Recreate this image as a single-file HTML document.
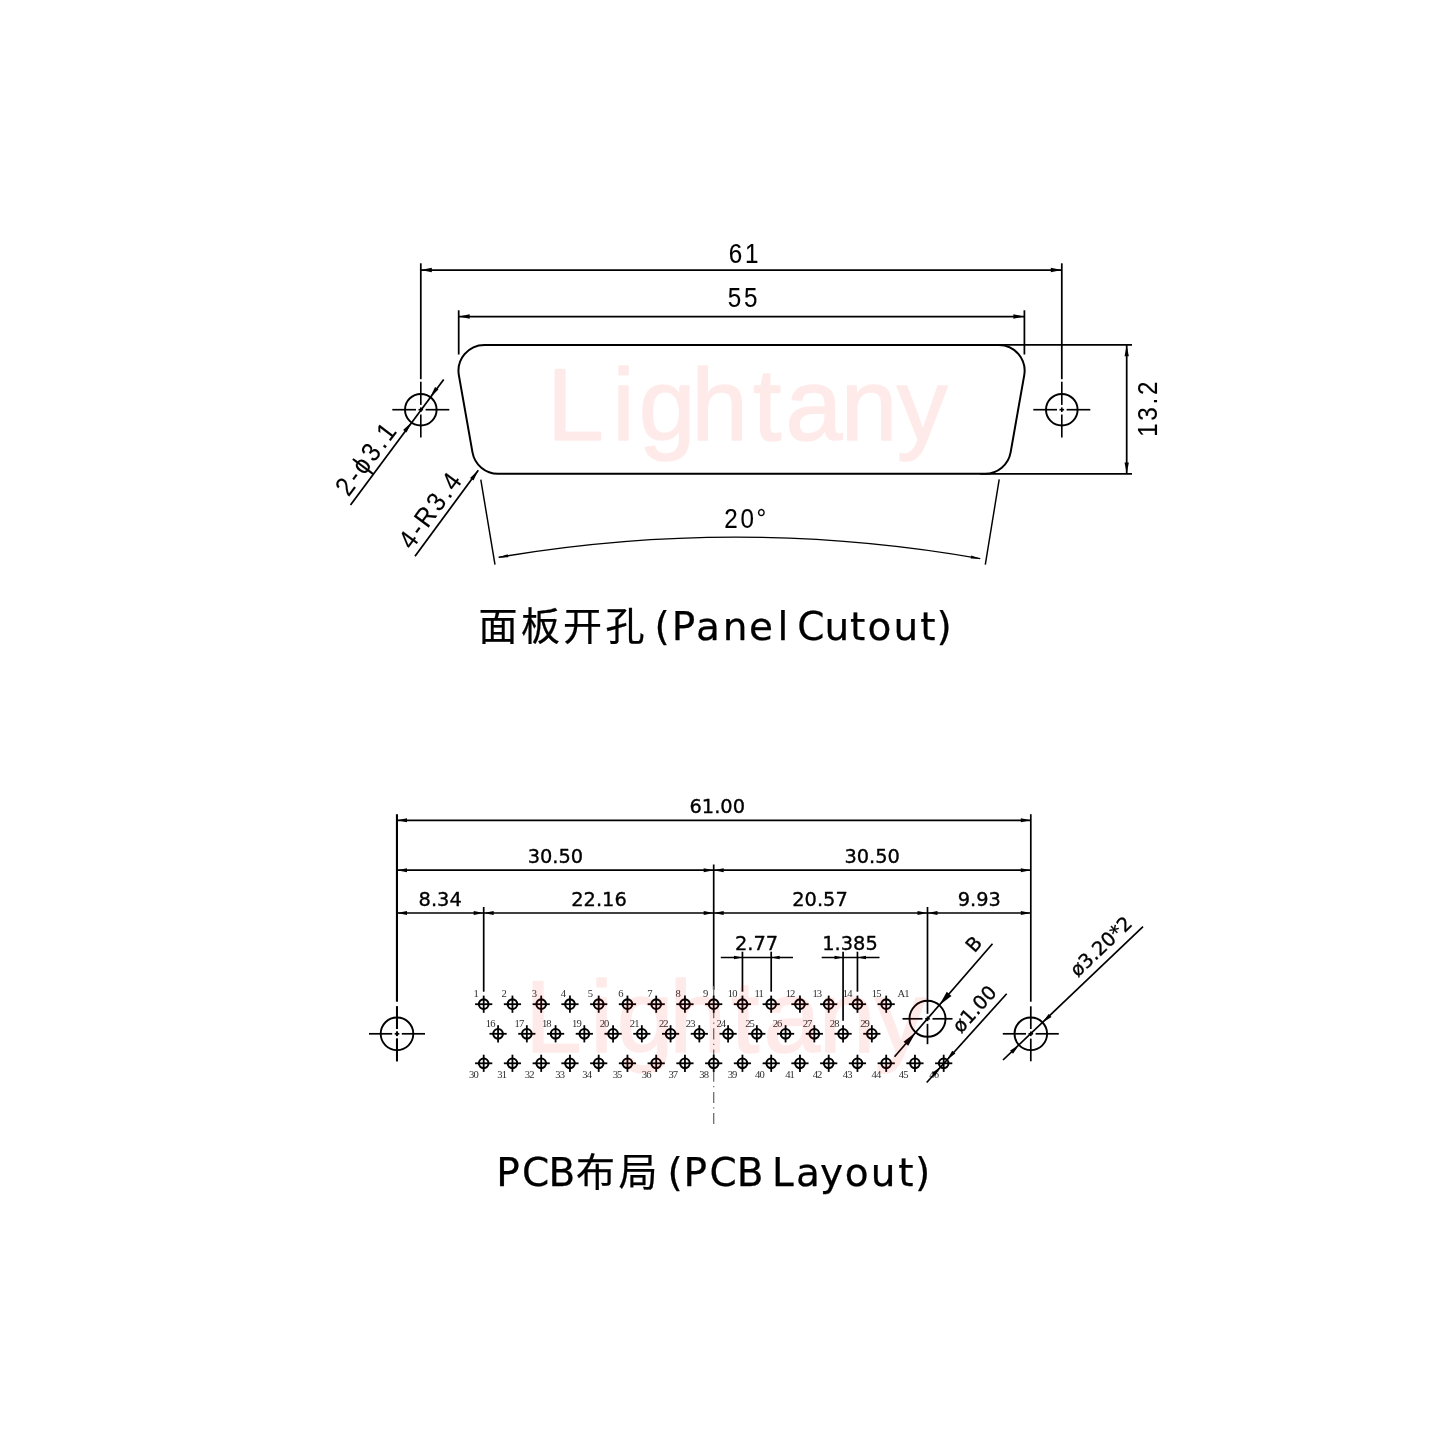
<!DOCTYPE html>
<html lang="zh-CN">
<head>
<meta charset="utf-8">
<title>面板开孔 (Panel Cutout) / PCB布局 (PCB Layout)</title>
<style>
html,body{margin:0;padding:0;background:#fff;}
body{width:1440px;height:1440px;overflow:hidden;}
svg{display:block;will-change:transform;}
text{white-space:pre;}
</style>
</head>
<body>
<svg width="1440" height="1440" viewBox="0 0 1440 1440">
<rect width="1440" height="1440" fill="#fff"/>
<line x1="420.80" y1="263.30" x2="420.80" y2="379.20" stroke="#000" stroke-width="1.75" />
<line x1="1061.80" y1="263.30" x2="1061.80" y2="379.20" stroke="#000" stroke-width="1.75" />
<line x1="420.80" y1="270.00" x2="1061.80" y2="270.00" stroke="#000" stroke-width="1.75" />
<polygon points="420.80,270.00 431.80,267.85 431.80,272.15" fill="#000"/>
<polygon points="1061.80,270.00 1050.80,272.15 1050.80,267.85" fill="#000"/>
<line x1="458.70" y1="310.30" x2="458.70" y2="354.50" stroke="#000" stroke-width="1.75" />
<line x1="1024.40" y1="310.30" x2="1024.40" y2="354.50" stroke="#000" stroke-width="1.75" />
<line x1="458.70" y1="316.50" x2="1024.40" y2="316.50" stroke="#000" stroke-width="1.75" />
<polygon points="458.70,316.50 469.70,314.35 469.70,318.65" fill="#000"/>
<polygon points="1024.40,316.50 1013.40,318.65 1013.40,314.35" fill="#000"/>
<circle cx="420.80" cy="409.70" r="15.80" fill="none" stroke="#000" stroke-width="1.95"/>
<line x1="392.30" y1="409.70" x2="416.00" y2="409.70" stroke="#000" stroke-width="1.65" />
<line x1="418.50" y1="409.70" x2="423.10" y2="409.70" stroke="#000" stroke-width="1.65" />
<line x1="425.60" y1="409.70" x2="449.30" y2="409.70" stroke="#000" stroke-width="1.65" />
<line x1="420.80" y1="381.70" x2="420.80" y2="404.90" stroke="#000" stroke-width="1.65" />
<line x1="420.80" y1="407.40" x2="420.80" y2="412.00" stroke="#000" stroke-width="1.65" />
<line x1="420.80" y1="414.50" x2="420.80" y2="437.50" stroke="#000" stroke-width="1.65" />
<circle cx="1061.80" cy="409.70" r="15.80" fill="none" stroke="#000" stroke-width="1.95"/>
<line x1="1033.30" y1="409.70" x2="1057.00" y2="409.70" stroke="#000" stroke-width="1.65" />
<line x1="1059.50" y1="409.70" x2="1064.10" y2="409.70" stroke="#000" stroke-width="1.65" />
<line x1="1066.60" y1="409.70" x2="1090.30" y2="409.70" stroke="#000" stroke-width="1.65" />
<line x1="1061.80" y1="381.70" x2="1061.80" y2="404.90" stroke="#000" stroke-width="1.65" />
<line x1="1061.80" y1="407.40" x2="1061.80" y2="412.00" stroke="#000" stroke-width="1.65" />
<line x1="1061.80" y1="414.50" x2="1061.80" y2="437.50" stroke="#000" stroke-width="1.65" />
<path d="M 484.40 344.9 L 998.70 344.9 A 25.9 25.9 0 0 1 1024.21 375.30 L 1010.61 452.40 A 25.9 25.9 0 0 1 985.11 473.8 L 497.99 473.8 A 25.9 25.9 0 0 1 472.49 452.40 L 458.89 375.30 A 25.9 25.9 0 0 1 484.40 344.9 Z" fill="none" stroke="#000" stroke-width="2.0" stroke-linejoin="round"/>
<line x1="993.70" y1="344.90" x2="1132.00" y2="344.90" stroke="#000" stroke-width="1.75" />
<line x1="980.11" y1="473.80" x2="1132.00" y2="473.80" stroke="#000" stroke-width="1.75" />
<line x1="1126.70" y1="344.90" x2="1126.70" y2="473.80" stroke="#000" stroke-width="1.75" />
<polygon points="1126.70,345.30 1128.85,356.30 1124.55,356.30" fill="#000"/>
<polygon points="1126.70,473.40 1124.55,462.40 1128.85,462.40" fill="#000"/>
<line x1="480.80" y1="479.60" x2="495.00" y2="564.70" stroke="#000" stroke-width="1.45" />
<line x1="999.20" y1="479.40" x2="985.30" y2="564.70" stroke="#000" stroke-width="1.45" />
<path d="M 498.7 557.3 A 1413 1413 0 0 1 980.2 558.6" fill="none" stroke="#000" stroke-width="1.4"/>
<polygon points="498.10,557.40 507.70,554.22 508.21,557.18" fill="#000"/>
<polygon points="980.80,558.70 970.69,558.48 971.20,555.52" fill="#000"/>
<line x1="350.50" y1="505.00" x2="443.70" y2="379.50" stroke="#000" stroke-width="1.75" />
<polygon points="411.38,422.38 406.55,432.50 403.10,429.93" fill="#000"/>
<polygon points="430.22,397.02 435.05,386.90 438.50,389.47" fill="#000"/>
<line x1="415.00" y1="556.20" x2="478.30" y2="470.30" stroke="#000" stroke-width="1.75" />
<polygon points="478.30,470.30 473.51,480.43 470.04,477.88" fill="#000"/>
<text x="0" y="0" transform="translate(744.95 263.40) scale(0.9 1)" font-family='"Liberation Sans", sans-serif' font-size="26.9" text-anchor="middle" fill="#000" letter-spacing="3.0"  stroke="#000" stroke-width="0.12" stroke-linejoin="round">61</text>
<text x="0" y="0" transform="translate(743.95 306.90) scale(0.9 1)" font-family='"Liberation Sans", sans-serif' font-size="26.9" text-anchor="middle" fill="#000" letter-spacing="3.0"  stroke="#000" stroke-width="0.12" stroke-linejoin="round">55</text>
<text x="0" y="0" transform="translate(746.65 528.00) scale(0.9 1)" font-family='"Liberation Sans", sans-serif' font-size="26.9" text-anchor="middle" fill="#000" letter-spacing="3.0"  stroke="#000" stroke-width="0.12" stroke-linejoin="round">20°</text>
<text x="0" y="0" transform="translate(1157.40 407.85) rotate(-90) scale(0.9 1)" font-family='"Liberation Sans", sans-serif' font-size="26.9" text-anchor="middle" fill="#000" letter-spacing="3.0"  stroke="#000" stroke-width="0.12" stroke-linejoin="round">13.2</text>
<text x="0" y="0" transform="translate(348.54 497.57) rotate(-53.4) scale(0.9 1)" font-family='"Liberation Sans", sans-serif' font-size="26.9" text-anchor="start" fill="#000" letter-spacing="3.0"  stroke="#000" stroke-width="0.12" stroke-linejoin="round">2-ϕ3.1</text>
<text x="0" y="0" transform="translate(411.65 550.63) rotate(-53.61) scale(0.9 1)" font-family='"Liberation Sans", sans-serif' font-size="26.9" text-anchor="start" fill="#000" letter-spacing="3.0"  stroke="#000" stroke-width="0.12" stroke-linejoin="round">4-R3.4</text>
<text x="478.6 521.0 562.9 605.4 644.4 654.6 671.7 695.9 722.8 748.9 777.5 788.3 797.3 824.5 850.0 867.4 893.4 920.2 936.4" y="639.8" font-family='"DejaVu Sans", "Liberation Sans", "Noto Sans CJK SC", sans-serif' font-size="39.0" fill="#000" stroke="#000" stroke-width="0.25" stroke-linejoin="round">面板开孔 (Panel Cutout)</text>
<text x="496.3 521.9 548.6 576.1 618.4 657.4 667.4 683.6 709.6 736.7 763.5 771.9 796.1 819.9 844.8 870.8 898.2 914.9" y="1186.0" font-family='"DejaVu Sans", "Liberation Sans", "Noto Sans CJK SC", sans-serif' font-size="39.0" fill="#000" stroke="#000" stroke-width="0.25" stroke-linejoin="round">PCB布局 (PCB Layout)</text>
<line x1="396.95" y1="814.20" x2="396.95" y2="1001.70" stroke="#000" stroke-width="2.1" />
<line x1="1030.80" y1="814.20" x2="1030.80" y2="1001.70" stroke="#000" stroke-width="1.7" />
<line x1="397.00" y1="820.30" x2="1030.80" y2="820.30" stroke="#000" stroke-width="1.7" />
<polygon points="397.00,820.30 407.00,818.35 407.00,822.25" fill="#000"/>
<polygon points="1030.80,820.30 1020.80,822.25 1020.80,818.35" fill="#000"/>
<line x1="397.00" y1="870.20" x2="713.70" y2="870.20" stroke="#000" stroke-width="1.7" />
<polygon points="397.00,870.20 407.00,868.25 407.00,872.15" fill="#000"/>
<polygon points="713.70,870.20 703.70,872.15 703.70,868.25" fill="#000"/>
<line x1="713.70" y1="870.20" x2="1030.80" y2="870.20" stroke="#000" stroke-width="1.7" />
<polygon points="713.70,870.20 723.70,868.25 723.70,872.15" fill="#000"/>
<polygon points="1030.80,870.20 1020.80,872.15 1020.80,868.25" fill="#000"/>
<line x1="397.00" y1="913.00" x2="483.70" y2="913.00" stroke="#000" stroke-width="1.7" />
<polygon points="397.00,913.00 407.00,911.05 407.00,914.95" fill="#000"/>
<polygon points="483.70,913.00 473.70,914.95 473.70,911.05" fill="#000"/>
<line x1="483.70" y1="913.00" x2="713.70" y2="913.00" stroke="#000" stroke-width="1.7" />
<polygon points="483.70,913.00 493.70,911.05 493.70,914.95" fill="#000"/>
<polygon points="713.70,913.00 703.70,914.95 703.70,911.05" fill="#000"/>
<line x1="713.70" y1="913.00" x2="927.50" y2="913.00" stroke="#000" stroke-width="1.7" />
<polygon points="713.70,913.00 723.70,911.05 723.70,914.95" fill="#000"/>
<polygon points="927.50,913.00 917.50,914.95 917.50,911.05" fill="#000"/>
<line x1="927.50" y1="913.00" x2="1030.80" y2="913.00" stroke="#000" stroke-width="1.7" />
<polygon points="927.50,913.00 937.50,911.05 937.50,914.95" fill="#000"/>
<polygon points="1030.80,913.00 1020.80,914.95 1020.80,911.05" fill="#000"/>
<line x1="483.70" y1="907.00" x2="483.70" y2="991.70" stroke="#000" stroke-width="1.7" />
<line x1="713.70" y1="864.50" x2="713.70" y2="989.70" stroke="#000" stroke-width="1.7" />
<line x1="927.50" y1="907.00" x2="927.50" y2="1000.00" stroke="#000" stroke-width="1.7" />
<line x1="713.7" y1="985.9" x2="713.7" y2="1124" stroke="#6a6a6a" stroke-width="1.25" stroke-dasharray="11.1 4.3 1.2 4.6"/>
<line x1="720.80" y1="957.50" x2="793.00" y2="957.50" stroke="#000" stroke-width="1.7" />
<polygon points="742.45,957.50 733.95,959.25 733.95,955.75" fill="#000"/>
<polygon points="771.20,957.50 779.70,955.75 779.70,959.25" fill="#000"/>
<line x1="742.45" y1="951.70" x2="742.45" y2="991.70" stroke="#000" stroke-width="1.7" />
<line x1="771.20" y1="951.70" x2="771.20" y2="991.70" stroke="#000" stroke-width="1.7" />
<line x1="821.70" y1="957.50" x2="879.50" y2="957.50" stroke="#000" stroke-width="1.7" />
<polygon points="843.08,957.50 834.58,959.25 834.58,955.75" fill="#000"/>
<polygon points="857.45,957.50 865.95,955.75 865.95,959.25" fill="#000"/>
<line x1="843.08" y1="951.70" x2="843.08" y2="1020.80" stroke="#000" stroke-width="1.7" />
<line x1="857.45" y1="951.70" x2="857.45" y2="991.70" stroke="#000" stroke-width="1.7" />
<circle cx="397.00" cy="1033.80" r="16.30" fill="none" stroke="#000" stroke-width="1.9"/>
<line x1="369.00" y1="1033.80" x2="392.20" y2="1033.80" stroke="#000" stroke-width="1.7" />
<line x1="394.70" y1="1033.80" x2="399.30" y2="1033.80" stroke="#000" stroke-width="1.7" />
<line x1="401.80" y1="1033.80" x2="425.00" y2="1033.80" stroke="#000" stroke-width="1.7" />
<line x1="397.00" y1="1006.30" x2="397.00" y2="1029.00" stroke="#000" stroke-width="1.7" />
<line x1="397.00" y1="1031.50" x2="397.00" y2="1036.10" stroke="#000" stroke-width="1.7" />
<line x1="397.00" y1="1038.60" x2="397.00" y2="1061.30" stroke="#000" stroke-width="1.7" />
<line x1="396.95" y1="1006.30" x2="396.95" y2="1029.00" stroke="#000" stroke-width="2.0" />
<line x1="396.95" y1="1031.50" x2="396.95" y2="1036.10" stroke="#000" stroke-width="2.0" />
<line x1="396.95" y1="1038.60" x2="396.95" y2="1061.30" stroke="#000" stroke-width="2.0" />
<circle cx="1030.80" cy="1033.80" r="16.30" fill="none" stroke="#000" stroke-width="1.9"/>
<line x1="1002.80" y1="1033.80" x2="1026.00" y2="1033.80" stroke="#000" stroke-width="1.7" />
<line x1="1028.50" y1="1033.80" x2="1033.10" y2="1033.80" stroke="#000" stroke-width="1.7" />
<line x1="1035.60" y1="1033.80" x2="1058.80" y2="1033.80" stroke="#000" stroke-width="1.7" />
<line x1="1030.80" y1="1006.30" x2="1030.80" y2="1029.00" stroke="#000" stroke-width="1.7" />
<line x1="1030.80" y1="1031.50" x2="1030.80" y2="1036.10" stroke="#000" stroke-width="1.7" />
<line x1="1030.80" y1="1038.60" x2="1030.80" y2="1061.30" stroke="#000" stroke-width="1.7" />
<circle cx="927.50" cy="1018.80" r="18.00" fill="none" stroke="#000" stroke-width="1.9"/>
<line x1="902.50" y1="1018.80" x2="922.50" y2="1018.80" stroke="#000" stroke-width="1.7" />
<line x1="925.20" y1="1018.80" x2="929.80" y2="1018.80" stroke="#000" stroke-width="1.7" />
<line x1="932.50" y1="1018.80" x2="952.50" y2="1018.80" stroke="#000" stroke-width="1.7" />
<line x1="927.50" y1="1000.00" x2="927.50" y2="1013.80" stroke="#000" stroke-width="1.7" />
<line x1="927.50" y1="1016.50" x2="927.50" y2="1021.10" stroke="#000" stroke-width="1.7" />
<line x1="927.50" y1="1023.80" x2="927.50" y2="1044.20" stroke="#000" stroke-width="1.7" />
<circle cx="483.70" cy="1004.20" r="4.80" fill="none" stroke="#000" stroke-width="2.1"/>
<line x1="475.10" y1="1004.20" x2="492.30" y2="1004.20" stroke="#000" stroke-width="1.8" />
<line x1="483.70" y1="995.60" x2="483.70" y2="1012.80" stroke="#000" stroke-width="1.8" />
<text x="476.25" y="996.50" font-family='"Liberation Serif", serif' font-size="10.6" text-anchor="middle" fill="#2e2e2e" >1</text>
<circle cx="512.45" cy="1004.20" r="4.80" fill="none" stroke="#000" stroke-width="2.1"/>
<line x1="503.85" y1="1004.20" x2="521.05" y2="1004.20" stroke="#000" stroke-width="1.8" />
<line x1="512.45" y1="995.60" x2="512.45" y2="1012.80" stroke="#000" stroke-width="1.8" />
<text x="504.06" y="996.50" font-family='"Liberation Serif", serif' font-size="10.6" text-anchor="middle" fill="#2e2e2e" >2</text>
<circle cx="541.20" cy="1004.20" r="4.80" fill="none" stroke="#000" stroke-width="2.1"/>
<line x1="532.60" y1="1004.20" x2="549.80" y2="1004.20" stroke="#000" stroke-width="1.8" />
<line x1="541.20" y1="995.60" x2="541.20" y2="1012.80" stroke="#000" stroke-width="1.8" />
<text x="534.40" y="996.50" font-family='"Liberation Serif", serif' font-size="10.6" text-anchor="middle" fill="#2e2e2e" >3</text>
<circle cx="569.95" cy="1004.20" r="4.80" fill="none" stroke="#000" stroke-width="2.1"/>
<line x1="561.35" y1="1004.20" x2="578.55" y2="1004.20" stroke="#000" stroke-width="1.8" />
<line x1="569.95" y1="995.60" x2="569.95" y2="1012.80" stroke="#000" stroke-width="1.8" />
<text x="563.40" y="996.50" font-family='"Liberation Serif", serif' font-size="10.6" text-anchor="middle" fill="#2e2e2e" >4</text>
<circle cx="598.70" cy="1004.20" r="4.80" fill="none" stroke="#000" stroke-width="2.1"/>
<line x1="590.10" y1="1004.20" x2="607.30" y2="1004.20" stroke="#000" stroke-width="1.8" />
<line x1="598.70" y1="995.60" x2="598.70" y2="1012.80" stroke="#000" stroke-width="1.8" />
<text x="590.30" y="996.50" font-family='"Liberation Serif", serif' font-size="10.6" text-anchor="middle" fill="#2e2e2e" >5</text>
<circle cx="627.45" cy="1004.20" r="4.80" fill="none" stroke="#000" stroke-width="2.1"/>
<line x1="618.85" y1="1004.20" x2="636.05" y2="1004.20" stroke="#000" stroke-width="1.8" />
<line x1="627.45" y1="995.60" x2="627.45" y2="1012.80" stroke="#000" stroke-width="1.8" />
<text x="620.80" y="996.50" font-family='"Liberation Serif", serif' font-size="10.6" text-anchor="middle" fill="#2e2e2e" >6</text>
<circle cx="656.20" cy="1004.20" r="4.80" fill="none" stroke="#000" stroke-width="2.1"/>
<line x1="647.60" y1="1004.20" x2="664.80" y2="1004.20" stroke="#000" stroke-width="1.8" />
<line x1="656.20" y1="995.60" x2="656.20" y2="1012.80" stroke="#000" stroke-width="1.8" />
<text x="650.00" y="996.50" font-family='"Liberation Serif", serif' font-size="10.6" text-anchor="middle" fill="#2e2e2e" >7</text>
<circle cx="684.95" cy="1004.20" r="4.80" fill="none" stroke="#000" stroke-width="2.1"/>
<line x1="676.35" y1="1004.20" x2="693.55" y2="1004.20" stroke="#000" stroke-width="1.8" />
<line x1="684.95" y1="995.60" x2="684.95" y2="1012.80" stroke="#000" stroke-width="1.8" />
<text x="678.10" y="996.50" font-family='"Liberation Serif", serif' font-size="10.6" text-anchor="middle" fill="#2e2e2e" >8</text>
<circle cx="713.70" cy="1004.20" r="4.80" fill="none" stroke="#000" stroke-width="2.1"/>
<line x1="705.10" y1="1004.20" x2="722.30" y2="1004.20" stroke="#000" stroke-width="1.8" />
<line x1="713.70" y1="995.60" x2="713.70" y2="1012.80" stroke="#000" stroke-width="1.8" />
<text x="705.60" y="996.50" font-family='"Liberation Serif", serif' font-size="10.6" text-anchor="middle" fill="#2e2e2e" >9</text>
<circle cx="742.45" cy="1004.20" r="4.80" fill="none" stroke="#000" stroke-width="2.1"/>
<line x1="733.85" y1="1004.20" x2="751.05" y2="1004.20" stroke="#000" stroke-width="1.8" />
<line x1="742.45" y1="995.60" x2="742.45" y2="1012.80" stroke="#000" stroke-width="1.8" />
<text x="732.28" y="996.50" font-family='"Liberation Serif", serif' font-size="10.6" text-anchor="middle" fill="#2e2e2e" letter-spacing="-0.85" >10</text>
<circle cx="771.20" cy="1004.20" r="4.80" fill="none" stroke="#000" stroke-width="2.1"/>
<line x1="762.60" y1="1004.20" x2="779.80" y2="1004.20" stroke="#000" stroke-width="1.8" />
<line x1="771.20" y1="995.60" x2="771.20" y2="1012.80" stroke="#000" stroke-width="1.8" />
<text x="758.78" y="996.50" font-family='"Liberation Serif", serif' font-size="10.6" text-anchor="middle" fill="#2e2e2e" letter-spacing="-0.85" >11</text>
<circle cx="799.95" cy="1004.20" r="4.80" fill="none" stroke="#000" stroke-width="2.1"/>
<line x1="791.35" y1="1004.20" x2="808.55" y2="1004.20" stroke="#000" stroke-width="1.8" />
<line x1="799.95" y1="995.60" x2="799.95" y2="1012.80" stroke="#000" stroke-width="1.8" />
<text x="790.08" y="996.50" font-family='"Liberation Serif", serif' font-size="10.6" text-anchor="middle" fill="#2e2e2e" letter-spacing="-0.85" >12</text>
<circle cx="828.70" cy="1004.20" r="4.80" fill="none" stroke="#000" stroke-width="2.1"/>
<line x1="820.10" y1="1004.20" x2="837.30" y2="1004.20" stroke="#000" stroke-width="1.8" />
<line x1="828.70" y1="995.60" x2="828.70" y2="1012.80" stroke="#000" stroke-width="1.8" />
<text x="816.88" y="996.50" font-family='"Liberation Serif", serif' font-size="10.6" text-anchor="middle" fill="#2e2e2e" letter-spacing="-0.85" >13</text>
<circle cx="857.45" cy="1004.20" r="4.80" fill="none" stroke="#000" stroke-width="2.1"/>
<line x1="848.85" y1="1004.20" x2="866.05" y2="1004.20" stroke="#000" stroke-width="1.8" />
<line x1="857.45" y1="995.60" x2="857.45" y2="1012.80" stroke="#000" stroke-width="1.8" />
<text x="847.28" y="996.50" font-family='"Liberation Serif", serif' font-size="10.6" text-anchor="middle" fill="#2e2e2e" letter-spacing="-0.85" >14</text>
<circle cx="886.20" cy="1004.20" r="4.80" fill="none" stroke="#000" stroke-width="2.1"/>
<line x1="877.60" y1="1004.20" x2="894.80" y2="1004.20" stroke="#000" stroke-width="1.8" />
<line x1="886.20" y1="995.60" x2="886.20" y2="1012.80" stroke="#000" stroke-width="1.8" />
<text x="876.18" y="996.50" font-family='"Liberation Serif", serif' font-size="10.6" text-anchor="middle" fill="#2e2e2e" letter-spacing="-0.85" >15</text>
<text x="903.18" y="996.50" font-family='"Liberation Serif", serif' font-size="10.6" text-anchor="middle" fill="#2e2e2e" letter-spacing="-0.85" >A1</text>
<circle cx="498.07" cy="1033.80" r="4.80" fill="none" stroke="#000" stroke-width="2.1"/>
<line x1="489.47" y1="1033.80" x2="506.68" y2="1033.80" stroke="#000" stroke-width="1.8" />
<line x1="498.07" y1="1025.20" x2="498.07" y2="1042.40" stroke="#000" stroke-width="1.8" />
<text x="490.32" y="1026.80" font-family='"Liberation Serif", serif' font-size="10.6" text-anchor="middle" fill="#2e2e2e" letter-spacing="-0.85" >16</text>
<circle cx="526.83" cy="1033.80" r="4.80" fill="none" stroke="#000" stroke-width="2.1"/>
<line x1="518.23" y1="1033.80" x2="535.43" y2="1033.80" stroke="#000" stroke-width="1.8" />
<line x1="526.83" y1="1025.20" x2="526.83" y2="1042.40" stroke="#000" stroke-width="1.8" />
<text x="518.98" y="1026.80" font-family='"Liberation Serif", serif' font-size="10.6" text-anchor="middle" fill="#2e2e2e" letter-spacing="-0.85" >17</text>
<circle cx="555.58" cy="1033.80" r="4.80" fill="none" stroke="#000" stroke-width="2.1"/>
<line x1="546.98" y1="1033.80" x2="564.18" y2="1033.80" stroke="#000" stroke-width="1.8" />
<line x1="555.58" y1="1025.20" x2="555.58" y2="1042.40" stroke="#000" stroke-width="1.8" />
<text x="546.33" y="1026.80" font-family='"Liberation Serif", serif' font-size="10.6" text-anchor="middle" fill="#2e2e2e" letter-spacing="-0.85" >18</text>
<circle cx="584.33" cy="1033.80" r="4.80" fill="none" stroke="#000" stroke-width="2.1"/>
<line x1="575.73" y1="1033.80" x2="592.93" y2="1033.80" stroke="#000" stroke-width="1.8" />
<line x1="584.33" y1="1025.20" x2="584.33" y2="1042.40" stroke="#000" stroke-width="1.8" />
<text x="576.48" y="1026.80" font-family='"Liberation Serif", serif' font-size="10.6" text-anchor="middle" fill="#2e2e2e" letter-spacing="-0.85" >19</text>
<circle cx="613.08" cy="1033.80" r="4.80" fill="none" stroke="#000" stroke-width="2.1"/>
<line x1="604.48" y1="1033.80" x2="621.68" y2="1033.80" stroke="#000" stroke-width="1.8" />
<line x1="613.08" y1="1025.20" x2="613.08" y2="1042.40" stroke="#000" stroke-width="1.8" />
<text x="604.08" y="1026.80" font-family='"Liberation Serif", serif' font-size="10.6" text-anchor="middle" fill="#2e2e2e" letter-spacing="-0.85" >20</text>
<circle cx="641.83" cy="1033.80" r="4.80" fill="none" stroke="#000" stroke-width="2.1"/>
<line x1="633.23" y1="1033.80" x2="650.43" y2="1033.80" stroke="#000" stroke-width="1.8" />
<line x1="641.83" y1="1025.20" x2="641.83" y2="1042.40" stroke="#000" stroke-width="1.8" />
<text x="634.28" y="1026.80" font-family='"Liberation Serif", serif' font-size="10.6" text-anchor="middle" fill="#2e2e2e" letter-spacing="-0.85" >21</text>
<circle cx="670.58" cy="1033.80" r="4.80" fill="none" stroke="#000" stroke-width="2.1"/>
<line x1="661.98" y1="1033.80" x2="679.18" y2="1033.80" stroke="#000" stroke-width="1.8" />
<line x1="670.58" y1="1025.20" x2="670.58" y2="1042.40" stroke="#000" stroke-width="1.8" />
<text x="663.33" y="1026.80" font-family='"Liberation Serif", serif' font-size="10.6" text-anchor="middle" fill="#2e2e2e" letter-spacing="-0.85" >22</text>
<circle cx="699.33" cy="1033.80" r="4.80" fill="none" stroke="#000" stroke-width="2.1"/>
<line x1="690.73" y1="1033.80" x2="707.93" y2="1033.80" stroke="#000" stroke-width="1.8" />
<line x1="699.33" y1="1025.20" x2="699.33" y2="1042.40" stroke="#000" stroke-width="1.8" />
<text x="690.18" y="1026.80" font-family='"Liberation Serif", serif' font-size="10.6" text-anchor="middle" fill="#2e2e2e" letter-spacing="-0.85" >23</text>
<circle cx="728.08" cy="1033.80" r="4.80" fill="none" stroke="#000" stroke-width="2.1"/>
<line x1="719.48" y1="1033.80" x2="736.68" y2="1033.80" stroke="#000" stroke-width="1.8" />
<line x1="728.08" y1="1025.20" x2="728.08" y2="1042.40" stroke="#000" stroke-width="1.8" />
<text x="720.83" y="1026.80" font-family='"Liberation Serif", serif' font-size="10.6" text-anchor="middle" fill="#2e2e2e" letter-spacing="-0.85" >24</text>
<circle cx="756.83" cy="1033.80" r="4.80" fill="none" stroke="#000" stroke-width="2.1"/>
<line x1="748.23" y1="1033.80" x2="765.43" y2="1033.80" stroke="#000" stroke-width="1.8" />
<line x1="756.83" y1="1025.20" x2="756.83" y2="1042.40" stroke="#000" stroke-width="1.8" />
<text x="749.58" y="1026.80" font-family='"Liberation Serif", serif' font-size="10.6" text-anchor="middle" fill="#2e2e2e" letter-spacing="-0.85" >25</text>
<circle cx="785.58" cy="1033.80" r="4.80" fill="none" stroke="#000" stroke-width="2.1"/>
<line x1="776.98" y1="1033.80" x2="794.18" y2="1033.80" stroke="#000" stroke-width="1.8" />
<line x1="785.58" y1="1025.20" x2="785.58" y2="1042.40" stroke="#000" stroke-width="1.8" />
<text x="777.08" y="1026.80" font-family='"Liberation Serif", serif' font-size="10.6" text-anchor="middle" fill="#2e2e2e" letter-spacing="-0.85" >26</text>
<circle cx="814.33" cy="1033.80" r="4.80" fill="none" stroke="#000" stroke-width="2.1"/>
<line x1="805.73" y1="1033.80" x2="822.93" y2="1033.80" stroke="#000" stroke-width="1.8" />
<line x1="814.33" y1="1025.20" x2="814.33" y2="1042.40" stroke="#000" stroke-width="1.8" />
<text x="807.08" y="1026.80" font-family='"Liberation Serif", serif' font-size="10.6" text-anchor="middle" fill="#2e2e2e" letter-spacing="-0.85" >27</text>
<circle cx="843.08" cy="1033.80" r="4.80" fill="none" stroke="#000" stroke-width="2.1"/>
<line x1="834.48" y1="1033.80" x2="851.68" y2="1033.80" stroke="#000" stroke-width="1.8" />
<line x1="843.08" y1="1025.20" x2="843.08" y2="1042.40" stroke="#000" stroke-width="1.8" />
<text x="834.18" y="1026.80" font-family='"Liberation Serif", serif' font-size="10.6" text-anchor="middle" fill="#2e2e2e" letter-spacing="-0.85" >28</text>
<circle cx="871.83" cy="1033.80" r="4.80" fill="none" stroke="#000" stroke-width="2.1"/>
<line x1="863.23" y1="1033.80" x2="880.43" y2="1033.80" stroke="#000" stroke-width="1.8" />
<line x1="871.83" y1="1025.20" x2="871.83" y2="1042.40" stroke="#000" stroke-width="1.8" />
<text x="864.58" y="1026.80" font-family='"Liberation Serif", serif' font-size="10.6" text-anchor="middle" fill="#2e2e2e" letter-spacing="-0.85" >29</text>
<circle cx="483.70" cy="1063.30" r="4.80" fill="none" stroke="#000" stroke-width="2.1"/>
<line x1="475.10" y1="1063.30" x2="492.30" y2="1063.30" stroke="#000" stroke-width="1.8" />
<line x1="483.70" y1="1054.70" x2="483.70" y2="1071.90" stroke="#000" stroke-width="1.8" />
<text x="473.47" y="1078.00" font-family='"Liberation Serif", serif' font-size="10.6" text-anchor="middle" fill="#2e2e2e" letter-spacing="-0.85" >30</text>
<circle cx="512.45" cy="1063.30" r="4.80" fill="none" stroke="#000" stroke-width="2.1"/>
<line x1="503.85" y1="1063.30" x2="521.05" y2="1063.30" stroke="#000" stroke-width="1.8" />
<line x1="512.45" y1="1054.70" x2="512.45" y2="1071.90" stroke="#000" stroke-width="1.8" />
<text x="501.68" y="1078.00" font-family='"Liberation Serif", serif' font-size="10.6" text-anchor="middle" fill="#2e2e2e" letter-spacing="-0.85" >31</text>
<circle cx="541.20" cy="1063.30" r="4.80" fill="none" stroke="#000" stroke-width="2.1"/>
<line x1="532.60" y1="1063.30" x2="549.80" y2="1063.30" stroke="#000" stroke-width="1.8" />
<line x1="541.20" y1="1054.70" x2="541.20" y2="1071.90" stroke="#000" stroke-width="1.8" />
<text x="529.28" y="1078.00" font-family='"Liberation Serif", serif' font-size="10.6" text-anchor="middle" fill="#2e2e2e" letter-spacing="-0.85" >32</text>
<circle cx="569.95" cy="1063.30" r="4.80" fill="none" stroke="#000" stroke-width="2.1"/>
<line x1="561.35" y1="1063.30" x2="578.55" y2="1063.30" stroke="#000" stroke-width="1.8" />
<line x1="569.95" y1="1054.70" x2="569.95" y2="1071.90" stroke="#000" stroke-width="1.8" />
<text x="559.78" y="1078.00" font-family='"Liberation Serif", serif' font-size="10.6" text-anchor="middle" fill="#2e2e2e" letter-spacing="-0.85" >33</text>
<circle cx="598.70" cy="1063.30" r="4.80" fill="none" stroke="#000" stroke-width="2.1"/>
<line x1="590.10" y1="1063.30" x2="607.30" y2="1063.30" stroke="#000" stroke-width="1.8" />
<line x1="598.70" y1="1054.70" x2="598.70" y2="1071.90" stroke="#000" stroke-width="1.8" />
<text x="586.78" y="1078.00" font-family='"Liberation Serif", serif' font-size="10.6" text-anchor="middle" fill="#2e2e2e" letter-spacing="-0.85" >34</text>
<circle cx="627.45" cy="1063.30" r="4.80" fill="none" stroke="#000" stroke-width="2.1"/>
<line x1="618.85" y1="1063.30" x2="636.05" y2="1063.30" stroke="#000" stroke-width="1.8" />
<line x1="627.45" y1="1054.70" x2="627.45" y2="1071.90" stroke="#000" stroke-width="1.8" />
<text x="617.08" y="1078.00" font-family='"Liberation Serif", serif' font-size="10.6" text-anchor="middle" fill="#2e2e2e" letter-spacing="-0.85" >35</text>
<circle cx="656.20" cy="1063.30" r="4.80" fill="none" stroke="#000" stroke-width="2.1"/>
<line x1="647.60" y1="1063.30" x2="664.80" y2="1063.30" stroke="#000" stroke-width="1.8" />
<line x1="656.20" y1="1054.70" x2="656.20" y2="1071.90" stroke="#000" stroke-width="1.8" />
<text x="646.18" y="1078.00" font-family='"Liberation Serif", serif' font-size="10.6" text-anchor="middle" fill="#2e2e2e" letter-spacing="-0.85" >36</text>
<circle cx="684.95" cy="1063.30" r="4.80" fill="none" stroke="#000" stroke-width="2.1"/>
<line x1="676.35" y1="1063.30" x2="693.55" y2="1063.30" stroke="#000" stroke-width="1.8" />
<line x1="684.95" y1="1054.70" x2="684.95" y2="1071.90" stroke="#000" stroke-width="1.8" />
<text x="672.83" y="1078.00" font-family='"Liberation Serif", serif' font-size="10.6" text-anchor="middle" fill="#2e2e2e" letter-spacing="-0.85" >37</text>
<circle cx="713.70" cy="1063.30" r="4.80" fill="none" stroke="#000" stroke-width="2.1"/>
<line x1="705.10" y1="1063.30" x2="722.30" y2="1063.30" stroke="#000" stroke-width="1.8" />
<line x1="713.70" y1="1054.70" x2="713.70" y2="1071.90" stroke="#000" stroke-width="1.8" />
<text x="703.68" y="1078.00" font-family='"Liberation Serif", serif' font-size="10.6" text-anchor="middle" fill="#2e2e2e" letter-spacing="-0.85" >38</text>
<circle cx="742.45" cy="1063.30" r="4.80" fill="none" stroke="#000" stroke-width="2.1"/>
<line x1="733.85" y1="1063.30" x2="751.05" y2="1063.30" stroke="#000" stroke-width="1.8" />
<line x1="742.45" y1="1054.70" x2="742.45" y2="1071.90" stroke="#000" stroke-width="1.8" />
<text x="732.08" y="1078.00" font-family='"Liberation Serif", serif' font-size="10.6" text-anchor="middle" fill="#2e2e2e" letter-spacing="-0.85" >39</text>
<circle cx="771.20" cy="1063.30" r="4.80" fill="none" stroke="#000" stroke-width="2.1"/>
<line x1="762.60" y1="1063.30" x2="779.80" y2="1063.30" stroke="#000" stroke-width="1.8" />
<line x1="771.20" y1="1054.70" x2="771.20" y2="1071.90" stroke="#000" stroke-width="1.8" />
<text x="759.48" y="1078.00" font-family='"Liberation Serif", serif' font-size="10.6" text-anchor="middle" fill="#2e2e2e" letter-spacing="-0.85" >40</text>
<circle cx="799.95" cy="1063.30" r="4.80" fill="none" stroke="#000" stroke-width="2.1"/>
<line x1="791.35" y1="1063.30" x2="808.55" y2="1063.30" stroke="#000" stroke-width="1.8" />
<line x1="799.95" y1="1054.70" x2="799.95" y2="1071.90" stroke="#000" stroke-width="1.8" />
<text x="789.58" y="1078.00" font-family='"Liberation Serif", serif' font-size="10.6" text-anchor="middle" fill="#2e2e2e" letter-spacing="-0.85" >41</text>
<circle cx="828.70" cy="1063.30" r="4.80" fill="none" stroke="#000" stroke-width="2.1"/>
<line x1="820.10" y1="1063.30" x2="837.30" y2="1063.30" stroke="#000" stroke-width="1.8" />
<line x1="828.70" y1="1054.70" x2="828.70" y2="1071.90" stroke="#000" stroke-width="1.8" />
<text x="817.08" y="1078.00" font-family='"Liberation Serif", serif' font-size="10.6" text-anchor="middle" fill="#2e2e2e" letter-spacing="-0.85" >42</text>
<circle cx="857.45" cy="1063.30" r="4.80" fill="none" stroke="#000" stroke-width="2.1"/>
<line x1="848.85" y1="1063.30" x2="866.05" y2="1063.30" stroke="#000" stroke-width="1.8" />
<line x1="857.45" y1="1054.70" x2="857.45" y2="1071.90" stroke="#000" stroke-width="1.8" />
<text x="847.28" y="1078.00" font-family='"Liberation Serif", serif' font-size="10.6" text-anchor="middle" fill="#2e2e2e" letter-spacing="-0.85" >43</text>
<circle cx="886.20" cy="1063.30" r="4.80" fill="none" stroke="#000" stroke-width="2.1"/>
<line x1="877.60" y1="1063.30" x2="894.80" y2="1063.30" stroke="#000" stroke-width="1.8" />
<line x1="886.20" y1="1054.70" x2="886.20" y2="1071.90" stroke="#000" stroke-width="1.8" />
<text x="875.98" y="1078.00" font-family='"Liberation Serif", serif' font-size="10.6" text-anchor="middle" fill="#2e2e2e" letter-spacing="-0.85" >44</text>
<circle cx="914.95" cy="1063.30" r="4.80" fill="none" stroke="#000" stroke-width="2.1"/>
<line x1="906.35" y1="1063.30" x2="923.55" y2="1063.30" stroke="#000" stroke-width="1.8" />
<line x1="914.95" y1="1054.70" x2="914.95" y2="1071.90" stroke="#000" stroke-width="1.8" />
<text x="903.18" y="1078.00" font-family='"Liberation Serif", serif' font-size="10.6" text-anchor="middle" fill="#2e2e2e" letter-spacing="-0.85" >45</text>
<circle cx="943.70" cy="1063.30" r="4.80" fill="none" stroke="#000" stroke-width="2.1"/>
<line x1="935.10" y1="1063.30" x2="952.30" y2="1063.30" stroke="#000" stroke-width="1.8" />
<line x1="943.70" y1="1054.70" x2="943.70" y2="1071.90" stroke="#000" stroke-width="1.8" />
<text x="933.68" y="1078.00" font-family='"Liberation Serif", serif' font-size="10.6" text-anchor="middle" fill="#2e2e2e" letter-spacing="-0.85" >46</text>
<line x1="894.50" y1="1056.70" x2="992.50" y2="943.80" stroke="#000" stroke-width="1.7" />
<polygon points="915.70,1032.39 908.21,1045.75 903.53,1041.69" fill="#000"/>
<polygon points="939.30,1005.21 946.79,991.85 951.47,995.91" fill="#000"/>
<text x="0" y="0" transform="translate(974.61 953.43) rotate(-49.04)" font-family='"DejaVu Sans", "Liberation Sans", sans-serif' font-size="19.4" text-anchor="start" fill="#000"  stroke="#000" stroke-width="0.35" stroke-linejoin="round">B</text>
<line x1="926.70" y1="1082.50" x2="1006.70" y2="993.70" stroke="#000" stroke-width="1.7" />
<polygon points="946.91,1059.73 952.25,1050.68 955.37,1053.49" fill="#000"/>
<polygon points="940.49,1066.87 935.15,1075.92 932.03,1073.11" fill="#000"/>
<text x="0" y="0" transform="translate(961.00 1033.96) rotate(-47.98)" font-family='"DejaVu Sans", "Liberation Sans", sans-serif' font-size="19.4" text-anchor="start" fill="#000"  stroke="#000" stroke-width="0.35" stroke-linejoin="round">ø1.00</text>
<line x1="1003.00" y1="1060.00" x2="1143.00" y2="926.70" stroke="#000" stroke-width="1.7" />
<polygon points="1019.00,1045.04 1012.98,1053.66 1010.09,1050.62" fill="#000"/>
<polygon points="1042.60,1022.56 1048.62,1013.94 1051.51,1016.98" fill="#000"/>
<text x="0" y="0" transform="translate(1077.66 977.86) rotate(-43.6)" font-family='"DejaVu Sans", "Liberation Sans", sans-serif' font-size="19.4" text-anchor="start" fill="#000"  stroke="#000" stroke-width="0.35" stroke-linejoin="round">ø3.20*2</text>
<text x="717.30" y="813.30" font-family='"DejaVu Sans", "Liberation Sans", sans-serif' font-size="19.4" text-anchor="middle" fill="#000"  stroke="#000" stroke-width="0.35" stroke-linejoin="round">61.00</text>
<text x="555.40" y="863.30" font-family='"DejaVu Sans", "Liberation Sans", sans-serif' font-size="19.4" text-anchor="middle" fill="#000"  stroke="#000" stroke-width="0.35" stroke-linejoin="round">30.50</text>
<text x="872.20" y="863.30" font-family='"DejaVu Sans", "Liberation Sans", sans-serif' font-size="19.4" text-anchor="middle" fill="#000"  stroke="#000" stroke-width="0.35" stroke-linejoin="round">30.50</text>
<text x="440.20" y="906.10" font-family='"DejaVu Sans", "Liberation Sans", sans-serif' font-size="19.4" text-anchor="middle" fill="#000"  stroke="#000" stroke-width="0.35" stroke-linejoin="round">8.34</text>
<text x="599.00" y="906.10" font-family='"DejaVu Sans", "Liberation Sans", sans-serif' font-size="19.4" text-anchor="middle" fill="#000"  stroke="#000" stroke-width="0.35" stroke-linejoin="round">22.16</text>
<text x="820.00" y="906.10" font-family='"DejaVu Sans", "Liberation Sans", sans-serif' font-size="19.4" text-anchor="middle" fill="#000"  stroke="#000" stroke-width="0.35" stroke-linejoin="round">20.57</text>
<text x="979.30" y="906.10" font-family='"DejaVu Sans", "Liberation Sans", sans-serif' font-size="19.4" text-anchor="middle" fill="#000"  stroke="#000" stroke-width="0.35" stroke-linejoin="round">9.93</text>
<text x="756.60" y="950.30" font-family='"DejaVu Sans", "Liberation Sans", sans-serif' font-size="19.4" text-anchor="middle" fill="#000"  stroke="#000" stroke-width="0.35" stroke-linejoin="round">2.77</text>
<text x="850.00" y="950.30" font-family='"DejaVu Sans", "Liberation Sans", sans-serif' font-size="19.4" text-anchor="middle" fill="#000"  stroke="#000" stroke-width="0.35" stroke-linejoin="round">1.385</text>
<text x="547.0 612.2 638.7 691.3 753.0 785.5 840.7 896.8" y="439.6" font-family='"Liberation Sans", sans-serif' font-size="102" fill="#ff0000" stroke="#ff0000" stroke-width="1.6" stroke-linejoin="round" opacity="0.08">Lightany</text>
<text x="525.0 590.2 616.7 669.3 731.0 763.5 818.7 874.8" y="1052.2" font-family='"Liberation Sans", sans-serif' font-size="102" fill="#ff0000" stroke="#ff0000" stroke-width="1.6" stroke-linejoin="round" opacity="0.08">Lightany</text>
</svg>
</body>
</html>
